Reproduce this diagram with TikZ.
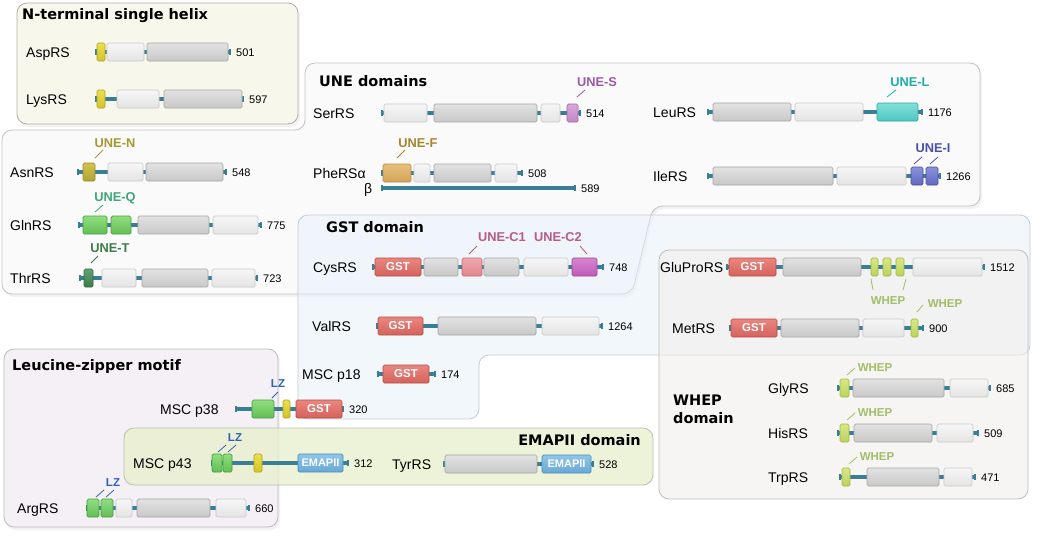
\documentclass[tikz,border=0pt]{standalone}
\usepackage{fontspec}
\setmainfont{Liberation Sans}
\newfontfamily\titlefont{DejaVu Sans}
\usetikzlibrary{shadows}

% backbone and domain colours
\definecolor{chaincol}{HTML}{3A7E96}
\definecolor{liteT}{HTML}{F6F6F6}\definecolor{liteB}{HTML}{E4E4E4}\definecolor{liteD}{HTML}{C9C9C9}
\definecolor{darkT}{HTML}{E2E2E2}\definecolor{darkB}{HTML}{C8C8C8}\definecolor{darkD}{HTML}{A6A6A6}
\definecolor{helixT}{HTML}{EAE04E}\definecolor{helixB}{HTML}{D2C42A}\definecolor{helixD}{HTML}{B0A420}
\definecolor{uneNT}{HTML}{D0C24C}\definecolor{uneNB}{HTML}{B2A432}\definecolor{uneND}{HTML}{978B28}
\definecolor{uneQT}{HTML}{92DE80}\definecolor{uneQB}{HTML}{62BE55}\definecolor{uneQD}{HTML}{44A03C}
\definecolor{uneTT}{HTML}{62A070}\definecolor{uneTB}{HTML}{3E7A4E}\definecolor{uneTD}{HTML}{2E6A3E}
\definecolor{uneFT}{HTML}{E8C07A}\definecolor{uneFB}{HTML}{D2A45A}\definecolor{uneFD}{HTML}{B68A44}
\definecolor{uneST}{HTML}{DAA8DA}\definecolor{uneSB}{HTML}{C088C4}\definecolor{uneSD}{HTML}{A06AA6}
\definecolor{uneLT}{HTML}{84DFDA}\definecolor{uneLB}{HTML}{4EC6C0}\definecolor{uneLD}{HTML}{2EA8A2}
\definecolor{uneIT}{HTML}{8C92DA}\definecolor{uneIB}{HTML}{6068C0}\definecolor{uneID}{HTML}{4850A0}
\definecolor{gstT}{HTML}{EA867E}\definecolor{gstB}{HTML}{D4625C}\definecolor{gstD}{HTML}{B84C46}
\definecolor{uneC1T}{HTML}{F0A8AC}\definecolor{uneC1B}{HTML}{DE868C}\definecolor{uneC1D}{HTML}{C06A72}
\definecolor{uneC2T}{HTML}{D884D0}\definecolor{uneC2B}{HTML}{BE5CB8}\definecolor{uneC2D}{HTML}{9C4698}
\definecolor{whepT}{HTML}{D8E884}\definecolor{whepB}{HTML}{BCD25E}\definecolor{whepD}{HTML}{9EB848}
\definecolor{emapT}{HTML}{90C6E8}\definecolor{emapB}{HTML}{68A8D6}\definecolor{emapD}{HTML}{4A8CBC}
% label colours
\definecolor{txtS}{HTML}{9B5BA5}\definecolor{txtF}{HTML}{A4862F}\definecolor{txtL}{HTML}{1FAFA8}
\definecolor{txtI}{HTML}{4B4FAE}\definecolor{txtN}{HTML}{A39B2F}\definecolor{txtQ}{HTML}{3FA77A}
\definecolor{txtT}{HTML}{3C7C4B}\definecolor{txtC}{HTML}{B65C86}\definecolor{txtW}{HTML}{A3BD68}
\definecolor{txtLZ}{HTML}{2F62B7}
% panel colours
\definecolor{panNT}{HTML}{F7F7EB}\definecolor{panNTd}{HTML}{B0B0A8}
\definecolor{panUNE}{HTML}{FAFAFA}\definecolor{panUNEd}{HTML}{C2C2C2}
\definecolor{panGST}{HTML}{E6F1FA}\definecolor{panGSTd}{HTML}{C3CBD3}
\definecolor{panWH}{HTML}{F1EFEB}\definecolor{panWHd}{HTML}{BDBDBD}
\definecolor{panLZ}{HTML}{F4F0F5}\definecolor{panLZd}{HTML}{BBBBBB}
\definecolor{panEM}{HTML}{E8EFCC}\definecolor{panEMd}{HTML}{BDBDB0}

\tikzset{
  chain/.style={draw=chaincol, line width=3.6pt},
  pname/.style={anchor=base west, inner sep=0pt, yshift=-5pt, font=\fontsize{14}{16}\selectfont},
  plen/.style={anchor=base west, inner sep=0pt, yshift=-4pt, font=\fontsize{11}{13}\selectfont},
  dlabel/.style={anchor=base, inner sep=0pt, yshift=-4.5pt, font=\bfseries\fontsize{12.8}{14}\selectfont},
  slabel/.style={anchor=base, inner sep=0pt, yshift=-4pt, font=\bfseries\fontsize{11.5}{13}\selectfont},
  ptitle/.style={anchor=base west, inner sep=0pt, yshift=-5.3pt, font=\titlefont\bfseries\fontsize{14.5}{17}\selectfont},
  domtxt/.style={inner sep=0pt, text=white, font=\bfseries\fontsize{11.5}{13}\selectfont},
  tickline/.style={line width=0.8pt},
  dombox/.style={rounded corners=1.5pt, line width=0.7pt},
  lite/.style={dombox, draw=liteD, top color=liteT, bottom color=liteB},
  dark/.style={dombox, draw=darkD, top color=darkT, bottom color=darkB},
  helix/.style={dombox, draw=helixD, top color=helixT, bottom color=helixB},
  uneN/.style={dombox, draw=uneND, top color=uneNT, bottom color=uneNB},
  uneQ/.style={dombox, draw=uneQD, top color=uneQT, bottom color=uneQB},
  uneT/.style={dombox, draw=uneTD, top color=uneTT, bottom color=uneTB},
  uneF/.style={dombox, draw=uneFD, top color=uneFT, bottom color=uneFB},
  uneS/.style={dombox, draw=uneSD, top color=uneST, bottom color=uneSB},
  uneL/.style={dombox, draw=uneLD, top color=uneLT, bottom color=uneLB},
  uneI/.style={dombox, draw=uneID, top color=uneIT, bottom color=uneIB},
  uneC1/.style={dombox, draw=uneC1D, top color=uneC1T, bottom color=uneC1B},
  uneC2/.style={dombox, draw=uneC2D, top color=uneC2T, bottom color=uneC2B},
  gstbox/.style={dombox, draw=gstD, top color=gstT, bottom color=gstB},
  whep/.style={dombox, draw=whepD, top color=whepT, bottom color=whepB},
  emapbox/.style={dombox, draw=emapD, top color=emapT, bottom color=emapB},
  panel/.style={rounded corners=10pt, line width=0.8pt},
  softshadow/.style={drop shadow={opacity=0.10, shadow xshift=2pt, shadow yshift=-3pt}},
}

% id, y, name x, name, start, end, length
\newcommand{\protein}[7]{%
  \node[pname] (#1) at (#3,#2) {#4};
  \coordinate (#1-s) at (#5,#2);
  \coordinate (#1-e) at (#6,#2);
  \draw[chain] (#1-s) -- (#1-e);
  \fill[chaincol] ([xshift=-1.3pt,yshift=-2.8pt]#1-s) rectangle ([xshift=1.3pt,yshift=2.8pt]#1-s);
  \fill[chaincol] ([xshift=-1.3pt,yshift=-2.8pt]#1-e) rectangle ([xshift=1.3pt,yshift=2.8pt]#1-e);
  \node[plen] (#1-len) at ([xshift=6pt]#1-e) {#7};
}
% style, left, right, y
\newcommand{\dom}[4]{\draw[#1] (#2,{#4-9}) rectangle (#3,{#4+9});}
\newcommand{\gst}[4]{\dom{gstbox}{#2}{#3}{#4}\node[domtxt] (#1) at ({(#2+#3)/2},#4) {GST};}
\newcommand{\emap}[4]{\dom{emapbox}{#2}{#3}{#4}\node[domtxt, font=\bfseries\fontsize{11}{13}\selectfont] (#1) at ({(#2+#3)/2},#4) {EMAPII};}
\newcommand{\tickmark}[5]{\draw[tickline, draw=#1] (#2,#3) -- (#4,#5);}

\begin{document}
\begin{tikzpicture}[x=1pt, y=-1pt]
\fill[white] (0,0) rectangle (1050,547);
\useasboundingbox (0,0) rectangle (1050,547);

% panels
\draw[panel, draw=panUNEd, fill=panUNE, softshadow] (305,63) -- (980,63) -- (980,206) -- (653,206)
  -- (632,294) -- (2,294) -- (2,130) -- (305,130) -- cycle;
\draw[panel, draw=panNTd, fill=panNT, softshadow] (17,3) rectangle (298,124);
\draw[panel, draw=panGSTd, fill=panGST, fill opacity=.5] (298,215) -- (1030,215) -- (1030,355)
  -- (479,355) -- (479,419) -- (298,419) -- cycle;
\draw[panel, draw=panWHd, fill=panWH, fill opacity=.6] (659,250) rectangle (1028,499);
\draw[panel, draw=panLZd, fill=panLZ, softshadow] (4,349) rectangle (278,527);
\draw[panel, draw=panEMd, fill=panEM, fill opacity=.75] (124,428) rectangle (653,485);

% titles
\node[ptitle] (t-nterm) at (22,14) {N-terminal single helix};
\node[ptitle] (t-une) at (319,81) {UNE domains};
\node[ptitle] (t-gst) at (326,227) {GST domain};
\node[ptitle] (t-lz) at (12,365) {Leucine-zipper motif};
\node[ptitle, anchor=base east] (t-emap) at (641,440) {EMAPII domain};
\node[ptitle] (t-whep1) at (673,400) {WHEP};
\node[ptitle] (t-whep2) at (673,418) {domain};

% N-terminal single helix
\protein{asp}{52}{26}{AspRS}{96}{230}{501}
\dom{helix}{97}{105}{52} \dom{lite}{107}{144}{52} \dom{dark}{147}{228}{52}
\protein{lys}{99}{26}{LysRS}{96}{243}{597}
\dom{helix}{97}{105}{99} \dom{lite}{117}{159}{99} \dom{dark}{164}{242}{99}

% UNE domains
\protein{ser}{113}{313}{SerRS}{382}{580}{514}
\dom{lite}{384}{427}{113} \dom{dark}{434}{537}{113} \dom{lite}{541}{560}{113} \dom{uneS}{567}{578}{113}
\node[dlabel, text=txtS] (l-unes) at (597,82) {UNE-S};
\tickmark{txtS}{577}{97}{585}{90}
\protein{phe}{173}{313}{PheRSα}{382}{522}{508}
\dom{uneF}{383}{411}{173} \dom{lite}{414}{430}{173} \dom{dark}{434}{491}{173} \dom{lite}{495}{517}{173}
\node[dlabel, text=txtF] (l-unef) at (418,143) {UNE-F};
\tickmark{txtF}{397}{158}{405}{150}
\protein{pheb}{188}{364}{β}{382}{575}{589}
\protein{leu}{112}{653}{LeuRS}{708}{922}{1176}
\dom{dark}{713}{791}{112} \dom{lite}{795}{863}{112} \dom{uneL}{877}{918}{112}
\node[dlabel, text=txtL] (l-unel) at (910,82) {UNE-L};
\tickmark{txtL}{887}{97}{896}{90}
\protein{ile}{176}{653}{IleRS}{708}{940}{1266}
\dom{dark}{713}{833}{176} \dom{lite}{837}{906}{176} \dom{uneI}{911}{923}{176} \dom{uneI}{926}{938}{176}
\node[dlabel, text=txtI] (l-unei) at (933,148) {UNE-I};
\tickmark{txtI}{914}{164}{922}{157} \tickmark{txtI}{930}{164}{938}{157}
\protein{asn}{172}{10}{AsnRS}{78}{226}{548}
\dom{uneN}{83}{95}{172} \dom{lite}{108}{143}{172} \dom{dark}{146}{223}{172}
\node[dlabel, text=txtN] (l-unen) at (115,143) {UNE-N};
\tickmark{txtN}{95}{158}{103}{150}
\protein{gln}{225}{10}{GlnRS}{79}{261}{775}
\dom{uneQ}{83}{107}{225} \dom{uneQ}{111}{131}{225} \dom{dark}{138}{209}{225} \dom{lite}{213}{258}{225}
\node[dlabel, text=txtQ] (l-uneq) at (115,197) {UNE-Q};
\tickmark{txtQ}{95}{212}{103}{205}
\protein{thr}{278}{10}{ThrRS}{80}{257}{723}
\dom{uneT}{84}{93}{278} \dom{lite}{102}{136}{278} \dom{dark}{142}{208}{278} \dom{lite}{212}{255}{278}
\node[dlabel, text=txtT] (l-unet) at (110,248) {UNE-T};
\tickmark{txtT}{91}{263}{98}{256}

% GST domain
\protein{cys}{267}{313}{CysRS}{373}{603}{748}
\gst{cys-gst}{375}{421}{267} \dom{dark}{424}{458}{267} \dom{uneC1}{462}{482}{267}
\dom{dark}{484}{519}{267} \dom{lite}{524}{568}{267} \dom{uneC2}{572}{597}{267}
\node[dlabel, text=txtC] (l-unec1) at (502,237) {UNE-C1};
\node[dlabel, text=txtC] (l-unec2) at (558,237) {UNE-C2};
\tickmark{txtC}{469}{254}{477}{246} \tickmark{txtC}{580}{246}{587}{254}
\protein{val}{326}{312}{ValRS}{377}{602}{1264}
\gst{val-gst}{378}{423}{326} \dom{dark}{438}{536}{326} \dom{lite}{542}{599}{326}
\protein{p18}{374}{302}{MSC p18}{378}{435}{174}
\gst{p18-gst}{383}{429}{374}
\protein{glupro}{267}{660}{GluProRS}{727}{984}{1512}
\gst{glupro-gst}{729}{776}{267} \dom{dark}{783}{861}{267} \dom{whep}{871}{878}{267}
\dom{whep}{883}{891}{267} \dom{whep}{896}{904}{267} \dom{lite}{913}{982}{267}
\node[slabel, text=txtW] (l-whep1) at (888,300) {WHEP};
\tickmark{txtW}{871}{279}{873}{290} \tickmark{txtW}{906}{279}{903}{290}
\protein{met}{328}{672}{MetRS}{730}{923}{900}
\gst{met-gst}{731}{777}{328} \dom{dark}{781}{859}{328} \dom{lite}{863}{904}{328} \dom{whep}{911}{918}{328}
\node[slabel, text=txtW] (l-whep2) at (945,303) {WHEP};
\tickmark{txtW}{917}{312}{923}{305}

% WHEP domain
\protein{gly}{388}{768}{GlyRS}{838}{990}{685}
\dom{whep}{840}{849}{388} \dom{dark}{853}{944}{388} \dom{lite}{950}{988}{388}
\node[slabel, text=txtW] (l-whep3) at (875,367) {WHEP};
\tickmark{txtW}{847}{375}{855}{368}
\protein{his}{433}{768}{HisRS}{838}{978}{509}
\dom{whep}{840}{849}{433} \dom{dark}{854}{932}{433} \dom{lite}{937}{973}{433}
\node[slabel, text=txtW] (l-whep4) at (875,412) {WHEP};
\tickmark{txtW}{847}{420}{855}{413}
\protein{trp}{477}{768}{TrpRS}{840}{975}{471}
\dom{whep}{842}{850}{477} \dom{dark}{867}{939}{477} \dom{lite}{944}{972}{477}
\node[slabel, text=txtW] (l-whep5) at (877,456) {WHEP};
\tickmark{txtW}{849}{464}{857}{457}

% Leucine-zipper motif and EMAPII domain
\protein{p38}{409}{160}{MSC p38}{236}{343}{320}
\dom{uneQ}{252}{274}{409} \dom{helix}{283}{290}{409} \gst{p38-gst}{296}{342}{409}
\node[slabel, text=txtLZ] (l-lz1) at (278,383) {LZ};
\tickmark{txtLZ}{272}{398}{278}{392}
\protein{p43}{463}{133}{MSC p43}{212}{348}{312}
\dom{uneQ}{212}{222}{463} \dom{uneQ}{223}{232}{463} \dom{helix}{254}{262}{463} \emap{p43-emap}{298}{343}{463}
\node[slabel, text=txtLZ] (l-lz2) at (235,437) {LZ};
\tickmark{txtLZ}{218}{452}{226}{445} \tickmark{txtLZ}{228}{452}{236}{445}
\protein{arg}{508}{17}{ArgRS}{87}{249}{660}
\dom{uneQ}{87}{99}{508} \dom{uneQ}{101}{113}{508} \dom{lite}{116}{132}{508} \dom{dark}{137}{210}{508} \dom{lite}{216}{246}{508}
\node[slabel, text=txtLZ] (l-lz3) at (113,482) {LZ};
\tickmark{txtLZ}{96}{497}{104}{490} \tickmark{txtLZ}{106}{497}{114}{490}
\protein{tyr}{464}{392}{TyrRS}{444}{593}{528}
\dom{dark}{445}{537}{464} \emap{tyr-emap}{542}{591}{464}
\end{tikzpicture}
\end{document}
